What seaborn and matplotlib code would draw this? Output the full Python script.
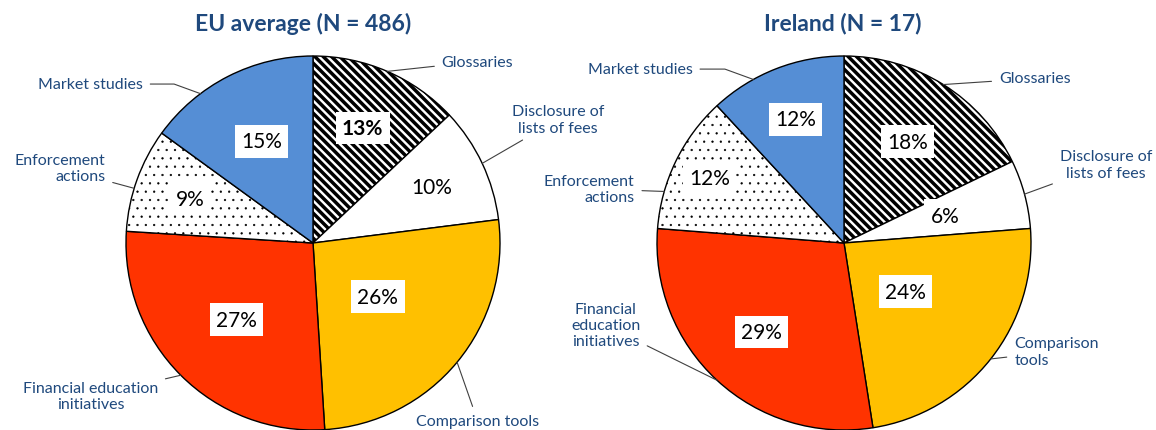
import numpy as np
import matplotlib
matplotlib.use("Agg")
import matplotlib.pyplot as plt
import seaborn as sns

sns.set_theme(style="white")
plt.rcParams['font.family'] = ['Lato', 'DejaVu Sans']

# Data
categories = ["Glossaries", "Disclosure of lists of fees", "Comparison tools",
              "Financial education initiatives", "Enforcement actions", "Market studies"]
eu_values = [13, 10, 26, 27, 9, 15]
ie_values = [18, 6, 24, 29, 12, 12]
eu_labels = ["Glossaries", "Disclosure of\nlists of fees", "Comparison tools",
             "Financial education\ninitiatives", "Enforcement\nactions", "Market studies"]
ie_labels = ["Glossaries", "Disclosure of\nlists of fees", "Comparison\ntools",
             "Financial\neducation\ninitiatives", "Enforcement\nactions", "Market studies"]
titles = ["EU average (N = 486)", "Ireland (N = 17)"]

# Styles
fills = ["white", "white", "#FFC000", "#FF3300", "white", "#558ED5"]
hatches = ["\\\\\\\\", None, None, None, "..", None]
hatch_lw = [2.5, 1.0, 1.0, 1.0, 0.4, 1.0]
text_blue = "#1F497D"

# Layout (pixels of the 1156x431 image, centre + radius of each pie)
W, H, R = 1156, 431, 187
centres = [(313, 244), (844, 244)]
title_x = [303, 843]
pct_r = [[0.67, 0.70, 0.45, 0.58, 0.70, 0.61],
         [0.64, 0.56, 0.42, 0.65, 0.80, 0.71]]
lab_pos = [[(0.88, 0.97), (1.31, 0.66), (0.88, -0.95), (-1.19, -0.82), (-1.11, 0.40), (-0.91, 0.85)],
           [(1.02, 0.88), (1.40, 0.42), (0.91, -0.58), (-1.09, -0.44), (-1.12, 0.29), (-1.09, 0.93)]]
lab_ha = [["center", "center", "center", "center", "right", "right"],
          ["center", "center", "left", "right", "right", "center"]]
lab_ma = [["center", "center", "center", "center", "right", "center"],
          ["center", "center", "left", "center", "right", "center"]]
# where the leader line meets the pie edge (degrees; None = middle of the slice)
attach = [[None, None, None, None, 163, 127],
          [None, None, None, None, 164, 119]]
# leader line elbows (None = straight)
lab_conn = [[None, None, None, None, None, "angle,angleA=0,angleB=-20,rad=0"],
            [None, None, None, None, None, "angle,angleA=0,angleB=-20,rad=0"]]

fig = plt.figure(figsize=(W / 100, H / 100), dpi=100)

for i, (vals, labs) in enumerate(zip([eu_values, ie_values], [eu_labels, ie_labels])):
    x0, x1 = (0, W / 2) if i == 0 else (W / 2, W)
    ax = fig.add_axes([x0 / W, 0, (x1 - x0) / W, 1])
    cx, cy = centres[i]
    wedges, _ = ax.pie(vals, colors=fills, startangle=90, counterclock=False,
                       wedgeprops=dict(edgecolor="black", linewidth=1.0))
    for w, h, lw in zip(wedges, hatches, hatch_lw):
        if h:
            w.set_hatch(h)
        try:
            w.set_hatch_linewidth(lw)
        except AttributeError:
            pass
    ax.set_aspect("auto")
    ax.set_xlim((x0 - cx) / R, (x1 - cx) / R)
    ax.set_ylim(-(H - cy) / R, cy / R)
    ax.axis("off")

    for k, w in enumerate(wedges):
        mid = np.deg2rad((w.theta1 + w.theta2) / 2)
        r = pct_r[i][k]
        bold = "bold" if (i == 0 and k == 0) else "normal"
        ax.text(r * np.cos(mid), r * np.sin(mid), f"{vals[k]}%", ha="center", va="center",
                fontsize=15, fontweight=bold, color="black",
                bbox=dict(boxstyle="square,pad=0.3", fc="white", ec="none"))
        tx, ty = lab_pos[i][k]
        a = mid if attach[i][k] is None else np.deg2rad(attach[i][k])
        arrow = dict(arrowstyle="-", color="#404040", lw=0.8, shrinkA=3, shrinkB=0)
        if lab_conn[i][k]:
            arrow["connectionstyle"] = lab_conn[i][k]
        ax.annotate(labs[k], xy=(np.cos(a), np.sin(a)), xytext=(tx, ty),
                    ha=lab_ha[i][k], va="center", multialignment=lab_ma[i][k],
                    fontsize=11.5, color=text_blue, annotation_clip=False,
                    arrowprops=arrow)

    fig.text(title_x[i] / W, 1 - 24 / H, titles[i], ha="center", va="center",
             fontsize=16.5, fontweight="bold", color=text_blue)

fig.savefig("out.png", dpi=100)
